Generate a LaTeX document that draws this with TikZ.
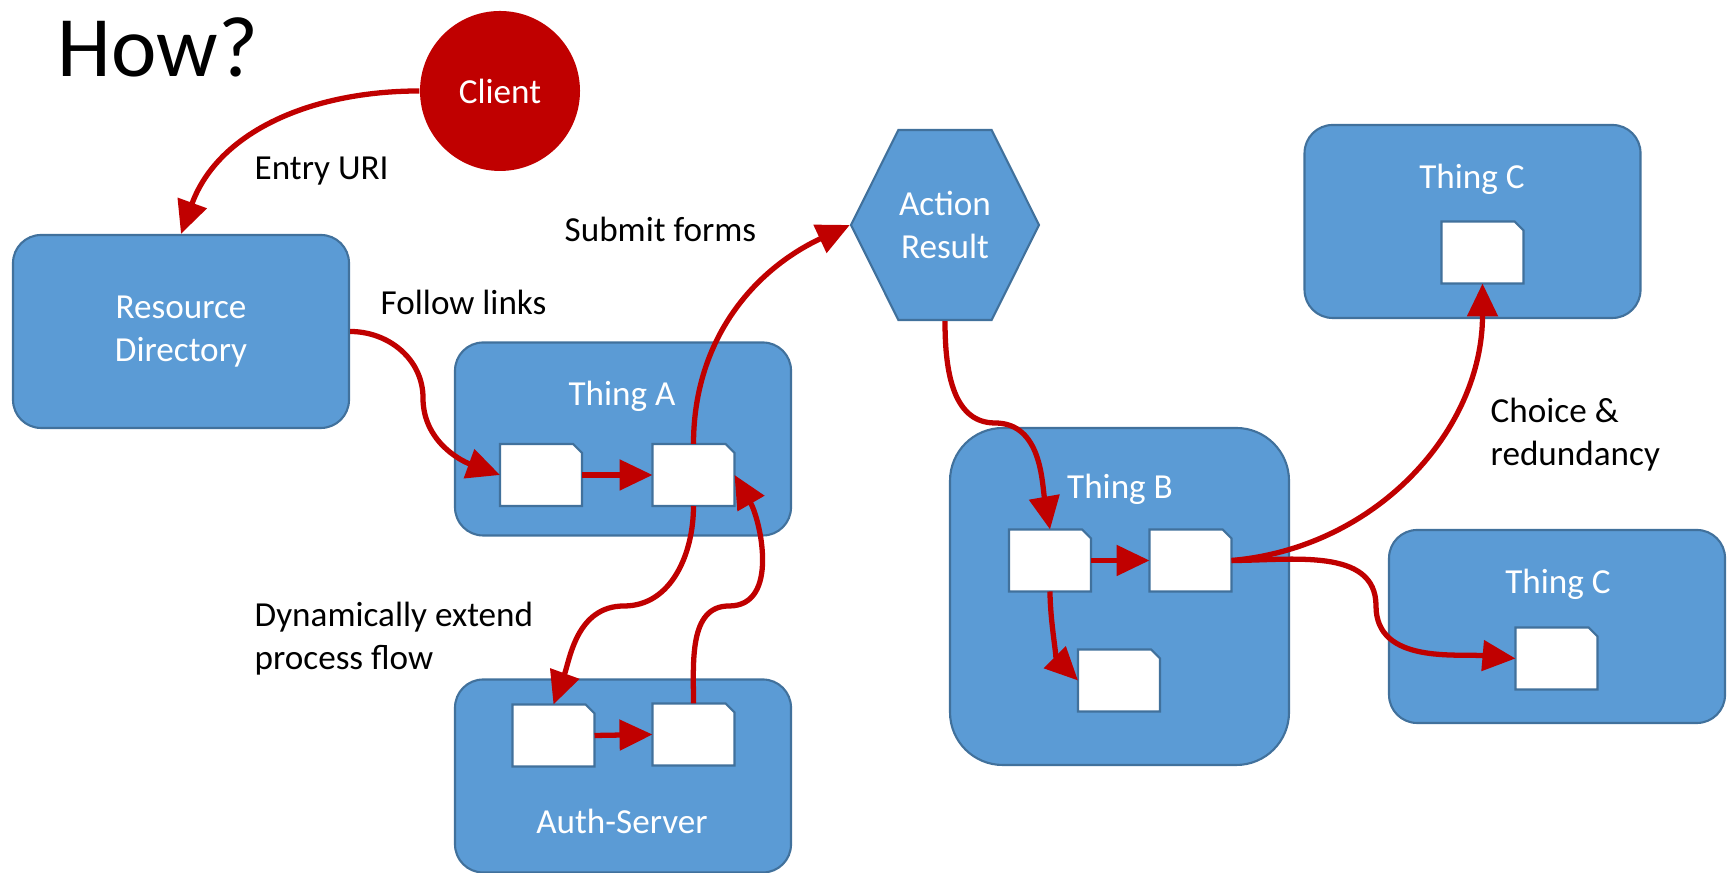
\documentclass[tikz,border=0pt]{standalone}
\usepackage{fontspec}
\setmainfont{Carlito}
\usetikzlibrary{arrows.meta,calc,positioning,shapes.symbols}
\definecolor{ThingFill}{HTML}{5B9BD5}
\definecolor{ThingEdge}{HTML}{41719C}
\definecolor{FlowRed}{HTML}{C00000}

\begin{document}
\begin{tikzpicture}[
        font=\fontsize{10}{12.2}\selectfont,
        thing/.style={
            rounded corners=8pt,
            fill=ThingFill,
            draw=ThingEdge,
            line width=0.6pt,
            minimum width=3.36cm,
            minimum height=1.93cm,
            text=white,
            align=center
        },
        hexa/.style={
            signal,
            signal to=west and east,
            signal pointer angle=127,
            fill=ThingFill,
            draw=ThingEdge,
            line width=0.6pt,
            minimum width=1.88cm,
            minimum height=1.90cm,
            inner sep=0pt,
            text=white,
            align=center
        },
        doc/.style={
            minimum width=0.82cm,
            minimum height=0.62cm,
            inner sep=0pt,
            outer sep=0pt
        },
        client/.style={circle, fill=FlowRed, minimum size=1.6cm, inner sep=0pt, text=white},
        boxcap/.style={text=white, inner sep=0pt},
        note/.style={anchor=west, align=left, inner sep=0pt},
        flow/.style={-{Triangle[length=0.33cm, width=0.3cm]}, line width=1.5pt, draw=FlowRed}
    ]
        \useasboundingbox (0,0) rectangle (17.33,8.73);

        \node[font=\fontsize{24.5}{28}\selectfont, anchor=base west, inner sep=0pt] (title) at (0.57,7.96) {How?};

        % boxes
        \node[client] (client) at (5.00,7.82) {Client};
        \node[thing] (rd) at (1.81,5.415) {Resource\\Directory};
        \node[thing] (thingA) at (6.23,4.34) {};
        \node[thing] (auth) at (6.23,0.97) {};
        \node[thing, rounded corners=15pt, minimum width=3.39cm, minimum height=3.37cm] (thingB) at (11.195,2.765) {};
        \node[thing] (thingC) at (14.725,6.515) {};
        \node[thing] (thingCC) at (15.57,2.465) {};
        \node[hexa] (action) at (9.45,6.48) {Action\\Result};

        \node[boxcap] (capA) at (6.22,4.77) {Thing A};
        \node[boxcap] (capAuth) at (6.22,0.52) {Auth-Server};
        \node[boxcap] (capB) at (11.20,3.84) {Thing B};
        \node[boxcap] (capC) at (14.72,6.94) {Thing C};
        \node[boxcap] (capCC) at (15.58,2.89) {Thing C};

        % documents, with a clipped top right corner
        \node[doc] (a1) at (5.41,3.98) {};
        \node[doc] (a2) at (6.935,3.98) {};
        \node[doc] (s1) at (5.535,1.375) {};
        \node[doc] (s2) at (6.935,1.385) {};
        \node[doc] (b1) at (10.50,3.125) {};
        \node[doc] (b2) at (11.905,3.125) {};
        \node[doc] (b3) at (11.19,1.925) {};
        \node[doc] (c1) at (14.825,6.205) {};
        \node[doc] (c2) at (15.565,2.145) {};
        \foreach \d in {a1,a2,s1,s2,b1,b2,b3,c1,c2}
            \filldraw[fill=white, draw=ThingEdge, line width=0.6pt]
                (\d.south west) -- (\d.south east) -- ($(\d.north east)+(0,-0.09)$)
                -- ($(\d.north east)+(-0.09,0)$) -- (\d.north west) -- cycle;

        % bends
        \coordinate (rdbend) at (4.23,4.75);
        \coordinate (abend) at (6.24,2.67);
        \coordinate (sbend) at (7.29,2.67);
        \coordinate (actbend) at (9.95,4.50);
        \coordinate (cbend) at (13.76,2.67);

        % flows
        \draw[flow] (client.west) to[out=180, in=70] (rd.north);
        \draw[flow] (rd.east) to[out=0, in=90] (rdbend) to[out=-90, in=160] (a1.west);
        \draw[flow] (a1.east) -- (a2.west);
        \draw[flow] (a2.north) to[out=90, in=205] (action.west);
        \draw[flow] (a2.south) to[out=-90, in=0] (abend) to[out=180, in=70] (s1.north);
        \draw[flow] (s1.east) -- (s2.west);
        \draw[flow] (s2.north) to[out=90, in=180] (sbend) to[out=0, in=-60] (a2.east);
        \draw[flow] (action.south) to[out=-90, in=180] (actbend) to[out=0, in=100] (b1.north);
        \draw[flow] (b1.east) -- (b2.west);
        \draw[flow] (b1.south) to[out=-90, in=135, looseness=0.8] (b3.west);
        \draw[flow] (b2.east) to[out=5, in=-90] (c1.south);
        \draw[flow] (b2.east) to[out=0, in=90] (cbend) to[out=-90, in=175] (c2.west);

        % labels
        \node[note] (entry) at (2.54,7.02) {Entry URI};
        \node[note] (follow) at (3.80,5.71) {Follow links};
        \node[note] (submit) at (5.64,6.44) {Submit forms};
        \node[note] (extend) at (2.54,2.34) {Dynamically extend\\process flow};
        \node[note] (choice) at (14.90,4.385) {Choice \&\\redundancy};
    \end{tikzpicture}
\end{document}
